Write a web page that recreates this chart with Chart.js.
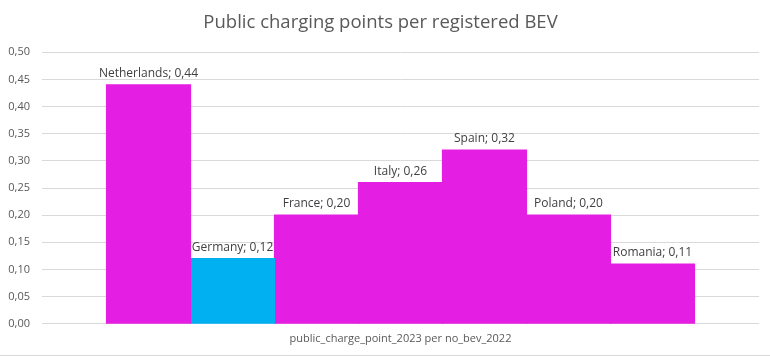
<!DOCTYPE html>
<html><head><meta charset="utf-8">
<script src="https://cdn.jsdelivr.net/npm/chart.js@4/dist/chart.umd.min.js"></script>
<style>html,body{margin:0;padding:0;background:#fff}#wrap{width:770px;height:357px;position:relative}</style>
</head><body><div id="wrap"><canvas id="c" width="770" height="357"></canvas></div>
<script>
const categories = ['public_charge_point_2023 per no_bev_2022'];
const countries = ['Netherlands','Germany','France','Italy','Spain','Poland','Romania'];
const values = [0.44, 0.12, 0.20, 0.26, 0.32, 0.20, 0.11];
const colors = ['#E41EE2','#00B0F0','#E41EE2','#E41EE2','#E41EE2','#E41EE2','#E41EE2'];
const fmt = v => v.toFixed(2).replace('.', ',');

const labelPlugin = {
  id: 'lbls',
  afterDatasetsDraw(chart) {
    const ctx = chart.ctx;
    ctx.save();
    ctx.font = '12px "Open Sans", sans-serif';
    ctx.fillStyle = '#404040';
    ctx.textAlign = 'center';
    ctx.textBaseline = 'alphabetic';
    chart.data.datasets.forEach((ds, i) => {
      const el = chart.getDatasetMeta(i).data[0];
      ctx.fillText(ds.label + '; ' + fmt(ds.data[0]), el.x, el.y - 8);
    });
    ctx.strokeStyle = '#d9d9d9';
    ctx.lineWidth = 1;
    ctx.beginPath(); ctx.moveTo(0, 355.5); ctx.lineTo(770, 355.5); ctx.stroke();
    ctx.restore();
  }
};

new Chart(document.getElementById('c'), {
  type: 'bar',
  data: {
    labels: categories,
    datasets: countries.map((c, i) => ({
      label: c, data: [values[i]], backgroundColor: colors[i], borderWidth: 0, inflateAmount: 0.6
    }))
  },
  options: {
    responsive: false, animation: false,
    layout: { padding: { left: 2, right: 11, top: 0, bottom: 4 } },
    datasets: { bar: { barPercentage: 1, categoryPercentage: 0.82 } },
    plugins: {
      legend: { display: false },
      tooltip: { enabled: false },
      title: { display: true, text: 'Public charging points per registered BEV',
        color: '#595959', font: { family: '"Open Sans", sans-serif', size: 18.5, weight: 'normal' },
        padding: { top: 12, bottom: 18 } }
    },
    scales: {
      x: {
        grid: { display: false, drawTicks: false },
        border: { display: false },
        ticks: { color: '#595959', font: { family: '"Open Sans", sans-serif', size: 11 }, padding: 8 }
      },
      y: {
        min: 0, max: 0.5,
        afterFit(scale) { scale.width = 40; },
        grid: { color: '#d9d9d9', drawTicks: false },
        border: { display: false },
        ticks: { stepSize: 0.05, color: '#595959', padding: 12,
          font: { family: '"Open Sans", sans-serif', size: 11 },
          callback: v => fmt(v) }
      }
    }
  },
  plugins: [labelPlugin]
});
</script></body></html>
